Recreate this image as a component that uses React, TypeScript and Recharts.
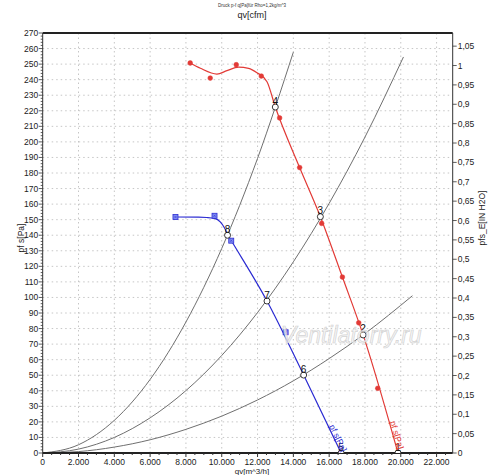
import React from "react";
import { ComposedChart, Line, Scatter, XAxis, YAxis } from "recharts";

const FONT = "'Liberation Sans', Arial, sans-serif";

// axis ranges
const Q_MAX = 22900; // m^3/h
const P_MAX = 270; // Pa
const M3H_PER_CFM = 1.699;
const PA_PER_INH2O = 249.089;

// tick values
const qTicks = [0, 500, 1000, 1500, 2000, 2500, 3000, 3500, 4000, 4500, 5000, 5500, 6000, 6500, 7000, 7500, 8000, 8500, 9000, 9500, 10000, 10500, 11000, 11500, 12000, 12500, 13000, 13500, 14000, 14500, 15000, 15500, 16000, 16500, 17000, 17500, 18000, 18500, 19000, 19500, 20000, 20500, 21000, 21500, 22000, 22500];
const cfmTicks = [0, 500, 1000, 1500, 2000, 2500, 3000, 3500, 4000, 4500, 5000, 5500, 6000, 6500, 7000, 7500, 8000, 8500, 9000, 9500, 10000, 10500, 11000, 11500, 12000, 12500, 13000];
const paTicks = Array.from({ length: 136 }, (_, i) => i * 2);
const inTicks = [0, 0.05, 0.1, 0.15, 0.2, 0.25, 0.3, 0.35, 0.4, 0.45, 0.5, 0.55, 0.6, 0.65, 0.7, 0.75, 0.8, 0.85, 0.9, 0.95, 1, 1.05];
const gridQ = [2000, 4000, 6000, 8000, 10000, 12000, 14000, 16000, 18000, 20000, 22000];
const gridP = [10, 20, 30, 40, 50, 60, 70, 80, 90, 100, 110, 120, 130, 140, 150, 160, 170, 180, 190, 200, 210, 220, 230, 240, 250, 260];

// fan curve (red), smooth fitted line
const redCurve = [
  { q: 8238, p: 250.7 }, { q: 8809, p: 247.3 }, { q: 9732, p: 243.6 }, { q: 10291, p: 245.8 },
  { q: 10940, p: 248 }, { q: 11499, p: 247.3 }, { q: 11968, p: 244.5 }, { q: 12528, p: 238.7 },
  { q: 12992, p: 222.4 }, { q: 14351, p: 183.5 }, { q: 15509, p: 151.9 }, { q: 16739, p: 113.1 },
  { q: 17897, p: 75.9 }, { q: 19843, p: 0 },
];
// measured points (red)
const redPoints = [
  { q: 8238, p: 250.7 }, { q: 9357, p: 241 }, { q: 10811, p: 249.6 }, { q: 12209, p: 242.3 },
  { q: 13233, p: 215.4 }, { q: 14351, p: 183.5 }, { q: 15582, p: 147.6 }, { q: 16739, p: 113.1 },
  { q: 17651, p: 83.7 }, { q: 18714, p: 41.6 },
];
// fan curve (blue)
const blueCurve = [
  { q: 7416, p: 151.7 }, { q: 8700, p: 151.6 }, { q: 9172, p: 151.4 }, { q: 9597, p: 150.8 },
  { q: 9916, p: 148.6 }, { q: 10150, p: 144.8 }, { q: 10324, p: 140.6 }, { q: 10531, p: 136.6 },
  { q: 12528, p: 97.7 }, { q: 14575, p: 50.1 }, { q: 16667, p: 0 },
];
const bluePoints = [
  { q: 7416, p: 151.7 }, { q: 9597, p: 152.5 }, { q: 10531, p: 136.5 }, { q: 13568, p: 77.6 },
];
// system curves (gray)
const sysA = [
  { q: 0, p: 0 }, { q: 2000, p: 5.3 }, { q: 4000, p: 21 }, { q: 6000, p: 47.3 }, { q: 8000, p: 84.2 },
  { q: 10000, p: 131.5 }, { q: 12000, p: 189.4 }, { q: 14000, p: 257.7 },
];
const sysB = [
  { q: 0, p: 0 }, { q: 2000, p: 2.5 }, { q: 4000, p: 10 }, { q: 6000, p: 22.6 }, { q: 8000, p: 40.1 },
  { q: 10000, p: 62.7 }, { q: 12000, p: 90.3 }, { q: 14000, p: 122.9 }, { q: 16000, p: 160.5 },
  { q: 18000, p: 203.1 }, { q: 20150, p: 254.6 },
];
const sysC = [
  { q: 0, p: 0 }, { q: 2000, p: 0.9 }, { q: 4000, p: 3.8 }, { q: 6000, p: 8.5 }, { q: 8000, p: 15.2 },
  { q: 10000, p: 23.7 }, { q: 12000, p: 34.1 }, { q: 14000, p: 46.4 }, { q: 16000, p: 60.7 },
  { q: 18000, p: 76.8 }, { q: 20650, p: 101.1 },
];
// operating points
const opPoints = [
  { q: 19843, p: 0, n: "1" }, { q: 17897, p: 75.9, n: "2" }, { q: 15509, p: 151.9, n: "3" },
  { q: 12992, p: 222.4, n: "4" }, { q: 16667, p: 0, n: "5" }, { q: 14575, p: 50.1, n: "6" },
  { q: 12528, p: 97.7, n: "7" }, { q: 10324, p: 140, n: "8" },
];
const blueLabel = [{ q: 16667, p: 0, text: "pf s[Pa]" }];
const redLabel = [{ q: 19843, p: 0, text: "pf s[Pa]" }];

const RED = "#e23a36";
const BLUE = "#2b2bd2";
const GRAY = "#6f6f6f";
const AXIS = "#333";
const GRID = "#c6c6c6";

const thousands = (v: number) => {
  const s = String(Math.round(v));
  return s.length > 3 ? s.slice(0, s.length - 3) + "." + s.slice(-3) : s;
};

const BottomTick = (props: any) => {
  const { x, y, payload } = props;
  const v = payload.value;
  const major = v % 2000 === 0;
  return (
    <g>
      <line x1={x} x2={x} y1={y} y2={y + (major ? 4 : 2)} stroke={AXIS} />
      {major && (
        <text x={x} y={y + 11.5} textAnchor="middle" fontSize={8.5} fill="#222" fontFamily={FONT}>
          {thousands(v)}
        </text>
      )}
    </g>
  );
};

const TopTick = (props: any) => {
  const { x, y, payload } = props;
  const v = payload.value;
  const major = v % 2000 === 0;
  return (
    <g>
      <line x1={x} x2={x} y1={y} y2={y - (major ? 4 : 2)} stroke={AXIS} />
      {major && (
        <text x={x} y={y - 4.5} textAnchor="middle" fontSize={8.5} fill="#222" fontFamily={FONT}>
          {thousands(v)}
        </text>
      )}
    </g>
  );
};

const LeftTick = (props: any) => {
  const { x, y, payload } = props;
  const v = payload.value;
  const major = v % 10 === 0;
  return (
    <g>
      <line x1={x} x2={x - (major ? 4 : 2)} y1={y} y2={y} stroke={AXIS} strokeWidth={0.8} />
      {major && (
        <text x={x - 4.5} y={y + 3} textAnchor="end" fontSize={8.5} fill="#222" fontFamily={FONT}>
          {v}
        </text>
      )}
    </g>
  );
};

const RightTick = (props: any) => {
  const { x, y, payload } = props;
  const v = Math.round(payload.value * 100) / 100;
  return (
    <g>
      <line x1={x} x2={x + 4} y1={y} y2={y} stroke={AXIS} strokeWidth={0.8} />
      <text x={x + 5} y={y + 3} textAnchor="start" fontSize={8.5} fill="#222" fontFamily={FONT}>
        {String(v).replace(".", ",")}
      </text>
    </g>
  );
};

const RedDot = (props: any) => {
  const { cx, cy } = props;
  return <circle cx={cx} cy={cy} r={2.4} fill={RED} stroke={RED} strokeWidth={0.5} />;
};

const BlueSquare = (props: any) => {
  const { cx, cy } = props;
  return (
    <g>
      <rect x={cx - 2.5} y={cy - 2.5} width={5} height={5} fill="#7f8cf2" stroke={BLUE} strokeWidth={0.8} />
      <line x1={cx - 1.2} x2={cx + 1.2} y1={cy - 1.2} y2={cy + 1.2} stroke={BLUE} strokeWidth={0.5} />
      <line x1={cx - 1.2} x2={cx + 1.2} y1={cy + 1.2} y2={cy - 1.2} stroke={BLUE} strokeWidth={0.5} />
    </g>
  );
};

const OpPoint = (props: any) => {
  const { cx, cy, payload } = props;
  return (
    <g>
      <circle cx={cx} cy={cy} r={3} fill="#fff" stroke="#222" strokeWidth={0.9} />
      <text x={cx} y={cy - 2.5} textAnchor="middle" fontSize={10} fill="#111" fontFamily={FONT}>
        {payload.n}
      </text>
    </g>
  );
};

const makeSeriesLabel = (color: string, dx: number, dy: number, angle: number) => (props: any) => {
  const { cx, cy, payload } = props;
  return (
    <text
      transform={`translate(${cx + dx},${cy + dy}) rotate(${angle})`}
      textAnchor="middle"
      dominantBaseline="central"
      fontSize={8.5}
      fill={color}
      fontFamily={FONT}
    >
      {payload.text}
    </text>
  );
};

export default function App() {
  return (
    <div style={{ position: "fixed", left: 0, top: 0, width: 500, height: 475, background: "#fff" }}>
      <ComposedChart width={500} height={475} margin={{ top: 0, right: 0.3, bottom: 0, left: 0.7 }}>
        <XAxis
          xAxisId="q"
          type="number"
          dataKey="q"
          domain={[0, Q_MAX]}
          ticks={qTicks}
          interval={0}
          tick={<BottomTick />}
          tickLine={false}
          tickSize={0}
          tickMargin={0}
          height={22}
          allowDataOverflow
          axisLine={{ stroke: "#222", strokeWidth: 1.8 }}
        />
        <XAxis
          xAxisId="cfm"
          orientation="top"
          type="number"
          domain={[0, Q_MAX / M3H_PER_CFM]}
          ticks={cfmTicks}
          interval={0}
          tick={<TopTick />}
          tickLine={false}
          tickSize={0}
          tickMargin={0}
          height={33}
          allowDataOverflow
          axisLine={{ stroke: "#222", strokeWidth: 1.8 }}
        />
        <YAxis
          yAxisId="pa"
          type="number"
          dataKey="p"
          domain={[0, P_MAX]}
          ticks={paTicks}
          interval={0}
          tick={<LeftTick />}
          tickLine={false}
          tickSize={0}
          tickMargin={0}
          width={42}
          allowDataOverflow
          axisLine={{ stroke: AXIS, strokeWidth: 1 }}
        />
        <YAxis
          yAxisId="in"
          orientation="right"
          type="number"
          domain={[0, P_MAX / PA_PER_INH2O]}
          ticks={inTicks}
          interval={0}
          tick={<RightTick />}
          tickLine={false}
          tickSize={0}
          tickMargin={0}
          width={47}
          allowDataOverflow
          axisLine={{ stroke: AXIS, strokeWidth: 1 }}
        />
        {gridP.map((v) => (
          <Line
            key={"gp" + v}
            xAxisId="q"
            yAxisId="pa"
            data={[{ q: 0, p: v }, { q: Q_MAX, p: v }]}
            dataKey="p"
            type="linear"
            stroke={GRID}
            strokeWidth={1}
            strokeDasharray="1.5 3"
            dot={false}
            activeDot={false}
            isAnimationActive={false}
          />
        ))}
        {gridQ.map((v) => (
          <Line
            key={"gq" + v}
            xAxisId="q"
            yAxisId="pa"
            data={[{ q: v, p: 0 }, { q: v, p: P_MAX }]}
            dataKey="p"
            type="linear"
            stroke={GRID}
            strokeWidth={1}
            strokeDasharray="1.5 3"
            dot={false}
            activeDot={false}
            isAnimationActive={false}
          />
        ))}
        <Line xAxisId="q" yAxisId="pa" data={sysA} dataKey="p" type="monotone" stroke={GRAY} strokeWidth={1} dot={false} isAnimationActive={false} />
        <Line xAxisId="q" yAxisId="pa" data={sysB} dataKey="p" type="monotone" stroke={GRAY} strokeWidth={1} dot={false} isAnimationActive={false} />
        <Line xAxisId="q" yAxisId="pa" data={sysC} dataKey="p" type="monotone" stroke={GRAY} strokeWidth={1} dot={false} isAnimationActive={false} />
        <Line xAxisId="q" yAxisId="pa" data={blueCurve} dataKey="p" type="monotone" stroke={BLUE} strokeWidth={1.2} dot={false} isAnimationActive={false} />
        <Line xAxisId="q" yAxisId="pa" data={redCurve} dataKey="p" type="monotone" stroke={RED} strokeWidth={1.2} dot={false} isAnimationActive={false} />
        <Scatter xAxisId="q" yAxisId="pa" data={redPoints} dataKey="p" shape={<RedDot />} isAnimationActive={false} />
        <Scatter xAxisId="q" yAxisId="pa" data={bluePoints} dataKey="p" shape={<BlueSquare />} isAnimationActive={false} />
        <Scatter xAxisId="q" yAxisId="pa" data={opPoints} dataKey="p" shape={<OpPoint />} isAnimationActive={false} />
        <Scatter xAxisId="q" yAxisId="pa" data={blueLabel} dataKey="p" shape={makeSeriesLabel(BLUE, -3, -15, 64)} isAnimationActive={false} />
        <Scatter xAxisId="q" yAxisId="pa" data={redLabel} dataKey="p" shape={makeSeriesLabel(RED, -1, -18, 73)} isAnimationActive={false} />
      </ComposedChart>
      <svg width={500} height={475} style={{ position: "absolute", left: 0, top: 0, pointerEvents: "none" }}>
        <text x={252} y={7} textAnchor="middle" fontSize={4.5} fill="#333" fontFamily={FONT}>
          Druck p-f q[Pa]für Rho=1,2kg/m^3
        </text>
        <text x={252} y={18} textAnchor="middle" fontSize={9} fill="#222" fontFamily={FONT}>
          qv[cfm]
        </text>
        <text x={252} y={473.5} textAnchor="middle" fontSize={8} fill="#222" fontFamily={FONT}>
          qv[m^3/h]
        </text>
        <text transform="translate(24,238) rotate(-90)" textAnchor="middle" fontSize={8.5} fill="#222" fontFamily={FONT}>
          pf s[Pa]
        </text>
        <text transform="translate(485,218) rotate(-90)" textAnchor="middle" fontSize={8.5} fill="#222" fontFamily={FONT}>
          pfs_E[IN H2O]
        </text>
        <text
          x={281}
          y={343}
          fontSize={23}
          fontStyle="italic"
          fontFamily={FONT}
          fill="#f3f3f3"
          fillOpacity={0.75}
          stroke="#c9c9c9"
          strokeWidth={0.7}
          strokeOpacity={0.8}
        >
          Ventilatorry.ru
        </text>
      </svg>
    </div>
  );
}
